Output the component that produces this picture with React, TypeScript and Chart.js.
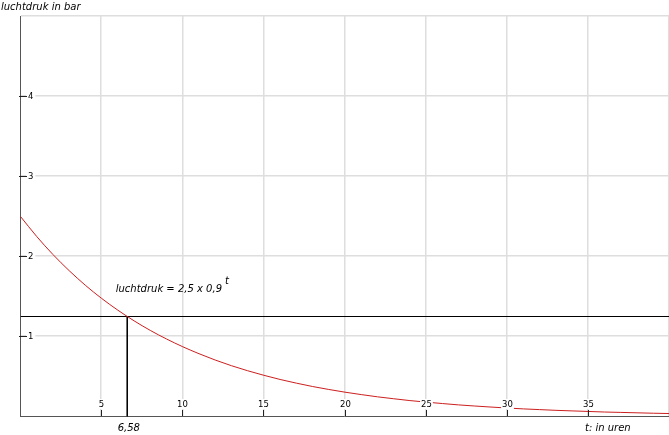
import React, { useEffect, useRef } from "react";
import { Chart, registerables } from "chart.js";

Chart.register(...registerables);

// t in hours and air pressure in bar (luchtdruk = 2,5 x 0,9^t)
const hours = [0, 1, 2, 3, 4, 5, 6, 7, 8, 9, 10, 11, 12, 13, 14, 15, 16, 17, 18, 19, 20, 21, 22, 23, 24, 25, 26, 27, 28, 29, 30, 31, 32, 33, 34, 35, 36, 37, 38, 39, 40];
const pressure = [2.5, 2.25, 2.025, 1.823, 1.64, 1.476, 1.329, 1.196, 1.076, 0.969, 0.872, 0.785, 0.706, 0.635, 0.572, 0.515, 0.463, 0.417, 0.375, 0.338, 0.304, 0.274, 0.246, 0.222, 0.199, 0.18, 0.162, 0.145, 0.131, 0.118, 0.106, 0.095, 0.086, 0.077, 0.07, 0.063, 0.056, 0.051, 0.046, 0.041, 0.037];
const halfLevel = 1.25;
const halfTime = 6.58;
const halfTimeLabel = "6,58";
const xTicks = [5, 10, 15, 20, 25, 30, 35];
const yTicks = [1, 2, 3, 4];
const yTitle = "luchtdruk in bar";
const xTitle = "t: in uren";
const formulaText = "luchtdruk = 2,5 x 0,9";
const formulaExp = "t";

const FONT = "DejaVu Sans";

const crisp = {
  id: "crisp",
  beforeDatasetsDraw(chart: any) {
    chart.ctx.save();
    chart.ctx.translate(0.5, 0.5);
  },
  afterDatasetsDraw(chart: any) {
    chart.ctx.restore();
  },
};

const overlay = {
  id: "overlay",
  afterDraw(chart: any) {
    const ctx = chart.ctx;
    const xs = chart.scales.x;
    const ys = chart.scales.y;
    const x0 = xs.getPixelForValue(0);
    const y0 = ys.getPixelForValue(0);
    ctx.save();
    ctx.font = `8.5px ${FONT}`;
    ctx.fillStyle = "#000";
    // y ticks
    ctx.textAlign = "left";
    ctx.textBaseline = "middle";
    yTicks.forEach((v) => {
      const py = Math.round(ys.getPixelForValue(v)) + 0.5;
      const w = ctx.measureText(String(v)).width;
      ctx.fillStyle = "#fff";
      ctx.fillRect(x0 + 6, py - 5, w + 4, 10);
      ctx.strokeStyle = "#222";
      ctx.lineWidth = 1;
      ctx.beginPath();
      ctx.moveTo(x0 - 1, py);
      ctx.lineTo(x0 + 7, py);
      ctx.stroke();
      ctx.fillStyle = "#000";
      ctx.fillText(String(v), x0 + 8, py + 0.5);
    });
    // x ticks
    ctx.textAlign = "center";
    ctx.textBaseline = "alphabetic";
    xTicks.forEach((v) => {
      const px = Math.round(xs.getPixelForValue(v)) + 0.5;
      const w = ctx.measureText(String(v)).width;
      ctx.fillStyle = "#fff";
      ctx.fillRect(px - w / 2 - 1, y0 - 17, w + 2, 10);
      ctx.strokeStyle = "#222";
      ctx.beginPath();
      ctx.moveTo(px, y0 - 6);
      ctx.lineTo(px, y0);
      ctx.stroke();
      ctx.fillStyle = "#000";
      ctx.fillText(String(v), px, y0 - 9);
    });
    // titles
    ctx.font = `italic 10px ${FONT}`;
    ctx.textAlign = "left";
    ctx.fillText(yTitle, 1, 10);
    ctx.fillText(xTitle, 585, y0 + 15);
    ctx.textAlign = "center";
    ctx.fillText(halfTimeLabel, xs.getPixelForValue(halfTime) + 2, y0 + 15);
    // formula annotation
    ctx.textAlign = "left";
    const fx = xs.getPixelForValue(5.9);
    const fy = ys.getPixelForValue(1.55);
    ctx.fillText(formulaText, fx, fy);
    const fw = ctx.measureText(formulaText).width;
    ctx.fillText(formulaExp, fx + fw + 3, fy - 8);
    ctx.restore();
  },
};

export default function App() {
  const ref = useRef<HTMLCanvasElement>(null);
  useEffect(() => {
    document.body.style.margin = "0";
    const canvas = ref.current!;
    const chart = new Chart(canvas, {
      type: "line",
      data: {
        datasets: [
          {
            data: hours.map((t, i) => ({ x: t, y: pressure[i] })),
            borderColor: "#cc1f1f",
            borderWidth: 1,
            pointRadius: 0,
            cubicInterpolationMode: "monotone",
          },
          {
            data: [
              { x: 0, y: halfLevel },
              { x: 40, y: halfLevel },
            ],
            borderColor: "#000",
            borderWidth: 1,
            pointRadius: 0,
          },
          {
            data: [
              { x: halfTime, y: halfLevel },
              { x: halfTime, y: 0 },
            ],
            borderColor: "#000",
            borderWidth: 1,
            pointRadius: 0,
          },
        ],
      },
      plugins: [crisp, overlay],
      options: {
        animation: false,
        responsive: false,
        events: [],
        layout: { padding: { left: 20, top: 16, bottom: 19, right: 0 } },
        plugins: { legend: { display: false }, tooltip: { enabled: false } },
        scales: {
          x: {
            type: "linear",
            min: 0,
            max: 40,
            afterFit: (s: any) => {
              s.height = 0;
            },
            ticks: { display: false, stepSize: 5 },
            grid: {
              drawTicks: false,
              color: (c: any) => (c.tick && c.tick.value === 0 ? "rgba(0,0,0,0)" : "#dedede"),
              lineWidth: 1.5,
            },
            border: { display: true, color: "#555", width: 1 },
          },
          y: {
            type: "linear",
            min: 0,
            max: 5,
            afterFit: (s: any) => {
              s.width = 0;
            },
            ticks: { display: false, stepSize: 1 },
            grid: {
              drawTicks: false,
              color: (c: any) => (c.tick && c.tick.value === 0 ? "rgba(0,0,0,0)" : "#dedede"),
              lineWidth: 1.5,
            },
            border: { display: true, color: "#555", width: 1 },
          },
        },
      },
    } as any);
    return () => chart.destroy();
  }, []);
  return <canvas ref={ref} width={669} height={435} style={{ display: "block" }} />;
}
